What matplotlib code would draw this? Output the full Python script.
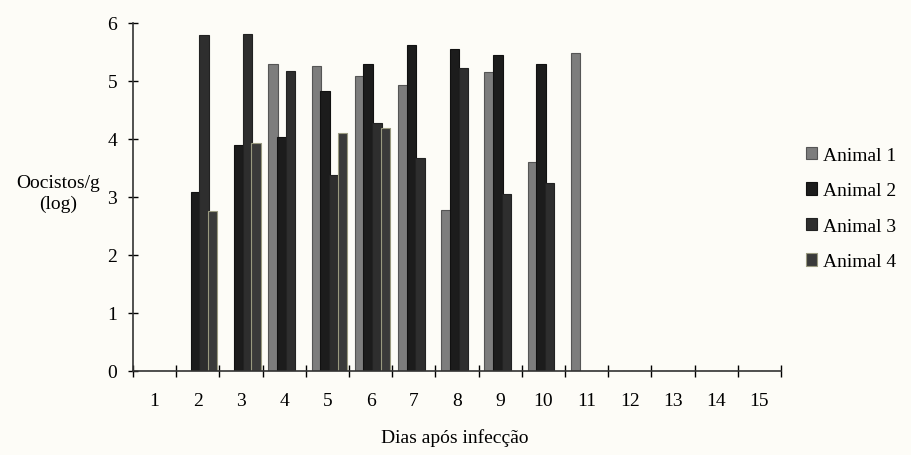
import numpy as np
import matplotlib
matplotlib.use('Agg')
import matplotlib.pyplot as plt

# Dados (log de oocistos/g por dia)
dias = list(range(1, 16))
animal_1 = [0, 0, 0, 5.30, 5.26, 5.08, 4.93, 2.78, 5.15, 3.60, 5.49, 0, 0, 0, 0]
animal_2 = [0, 3.08, 3.90, 4.03, 4.82, 5.30, 5.62, 5.55, 5.44, 5.29, 0, 0, 0, 0, 0]
animal_3 = [0, 5.79, 5.81, 5.17, 3.38, 4.28, 3.67, 5.22, 3.05, 3.24, 0, 0, 0, 0, 0]
animal_4 = [0, 2.76, 3.93, 0, 4.10, 4.19, 0, 0, 0, 0, 0, 0, 0, 0, 0]
nomes = ['Animal 1', 'Animal 2', 'Animal 3', 'Animal 4']
y_ticks = [0, 1, 2, 3, 4, 5, 6]

plt.rcParams['font.family'] = ['Liberation Serif', 'DejaVu Serif']
fundo = '#fdfcf7'

fig = plt.figure(figsize=(9.11, 4.56), dpi=100, facecolor=fundo)
ax = fig.add_axes([133/911, 1 - 372/456, 648/911, 348/456])
ax.set_facecolor(fundo)

series = [animal_1, animal_2, animal_3, animal_4]
cores = ['#7d7d7d', '#1c1c1c', '#2e2e2e', '#3a3a3a']
bordas = ['#555555', '#111111', '#222222', '#9a9a80']
x = np.array(dias)
largura = 0.22
for i, (vals, cor, borda, nome) in enumerate(zip(series, cores, bordas, nomes)):
    ax.bar(x - 0.255 + 0.2 * i, vals, width=largura, color=cor,
           edgecolor=borda, linewidth=0.8, label=nome)

ax.set_xlim(0.5, 15.5)
ax.set_ylim(0, 6)
ax.set_yticks(y_ticks)
ax.set_xticks(dias)
ax.set_xticks(np.arange(0.5, 16, 1), minor=True)
ax.tick_params(axis='x', which='major', length=0, pad=15, labelsize=14)
ax.tick_params(axis='x', which='minor', direction='inout', length=9, width=1)
ax.tick_params(axis='y', direction='inout', length=7, width=1, pad=8, labelsize=14)
for s in ['top', 'right']:
    ax.spines[s].set_visible(False)
for s in ['left', 'bottom']:
    ax.spines[s].set_color('#333333')
    ax.spines[s].set_linewidth(1.2)

fig.text(455/911, 1 - 438/456, 'Dias após infecção', ha='center', va='center', fontsize=14)
fig.text(58/911, 1 - 194/456, 'Oocistos/g\n(log)', ha='center', va='center',
         fontsize=14, linespacing=1.3)

fig.legend(loc='upper left', bbox_to_anchor=(796/911, 1 - 138/456), frameon=False,
           fontsize=14, handlelength=0.6, handleheight=0.6, handletextpad=0.3,
           labelspacing=0.95, borderpad=0)

fig.savefig('out.png', dpi=100, facecolor=fundo)
